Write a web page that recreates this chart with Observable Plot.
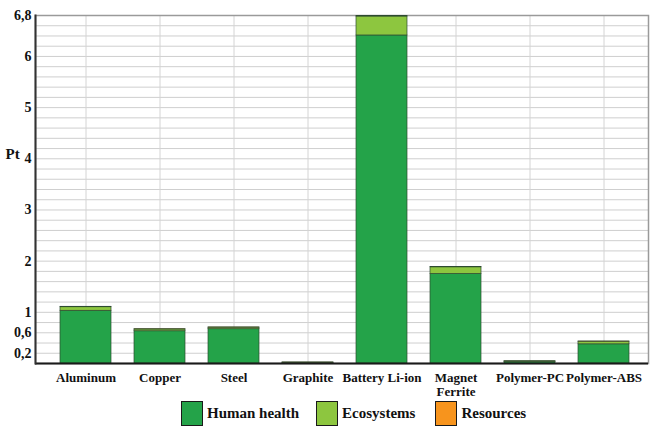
<!DOCTYPE html>
<html>
<head>
<meta charset="utf-8">
<script src="https://cdn.jsdelivr.net/npm/d3@7"></script>
<script src="https://cdn.jsdelivr.net/npm/@observablehq/plot@0.6"></script>
<style>
  body { margin: 0; background: #fff; font-family: 'Liberation Serif', 'Times New Roman', serif; }
  #chart { width: 650px; height: 400px; }
  #chart svg, #chart svg text { font-family: 'Liberation Serif', 'Times New Roman', serif !important; }
  .legend { display: flex; align-items: center; height: 27px; padding-left: 181px; font-weight: bold; font-size: 15px; color: #111; }
  .legend .item { display: flex; align-items: center; }
  .legend .sw { width: 22px; height: 25px; border: 1.5px solid #1a1a1a; box-sizing: border-box; margin-right: 4px; }
</style>
</head>
<body>
<div id="chart"></div>
<div class="legend" id="legend">
  <div class="item" style="margin-right:17px"><div class="sw"></div><span>Human health</span></div>
  <div class="item" style="margin-right:20px"><div class="sw"></div><span>Ecosystems</span></div>
  <div class="item"><div class="sw"></div><span>Resources</span></div>
</div>
<script>
const categories = ["Aluminum", "Copper", "Steel", "Graphite", "Battery Li-ion", "Magnet\nFerrite", "Polymer-PC", "Polymer-ABS"];
const impactTypes = ["Human health", "Ecosystems", "Resources"];
const humanHealth = [1.03, 0.63, 0.67, 0.012, 6.41, 1.75, 0.03, 0.375];
const ecosystems  = [0.07, 0.035, 0.03, 0.006, 0.37, 0.13, 0.012, 0.05];
const resources   = [0.008, 0.006, 0.006, 0.003, 0.01, 0.006, 0.002, 0.006];
const typeColors  = ["#24a349", "#8dc63f", "#f7941d"];
const yTicks = [0.2, 0.6, 1, 2, 3, 4, 5, 6, 6.8];
const yGrid = d3.range(0, 34).map(i => +(i * 0.2).toFixed(1)).concat([6.8]);

const seriesValues = [humanHealth, ecosystems, resources];
const data = [];
categories.forEach((c, i) => {
  impactTypes.forEach((t, j) => data.push({category: c, type: t, value: seriesValues[j][i]}));
});

function draw() {
  const chart = Plot.plot({
    width: 650,
    height: 400,
    marginLeft: 35,
    marginRight: 2,
    marginTop: 15,
    marginBottom: 37,
    style: {fontFamily: "Liberation Serif", fontSize: "13px", fontWeight: "bold", color: "#111", background: "#fff"},
    x: {domain: categories, paddingInner: 0.31, paddingOuter: 0.29, align: 0.57, label: null},
    y: {domain: [0, 6.8], label: null},
    color: {domain: impactTypes, range: typeColors},
    marks: [
      Plot.gridY(yGrid, {stroke: "#cfcfcf", strokeOpacity: 1, strokeWidth: 1}),
      Plot.gridX({stroke: "#d4d4d4", strokeOpacity: 1}),
      Plot.frame({stroke: "#9a9a9a", strokeWidth: 1.5}),
      Plot.barY(data, {x: "category", y: "value", fill: "type", order: impactTypes, stroke: "#2d4a30", strokeWidth: 0.7}),
      Plot.ruleY([0], {stroke: "#1a1a1a", strokeWidth: 2}),
      Plot.frame({anchor: "left", stroke: "#333", strokeWidth: 2}),
      Plot.axisY(yTicks, {tickSize: 0, tickPadding: 4, tickFormat: d => String(d).replace(".", ","), fontSize: 14, fontWeight: "bold"}),
      Plot.axisX({tickSize: 0, tickPadding: 8, fontSize: 13, fontWeight: "bold", lineHeight: 1.1}),
      Plot.text(["Pt"], {frameAnchor: "left", textAnchor: "start", dx: -30, dy: -35, fontSize: 15, fontWeight: "bold", fill: "#111"})
    ]
  });
  const host = document.getElementById("chart");
  host.innerHTML = "";
  host.appendChild(chart);
}

document.querySelectorAll("#legend .sw").forEach((el, i) => { el.style.background = typeColors[i]; });
draw();
if (document.fonts && document.fonts.load) {
  Promise.all([document.fonts.load("bold 14px 'Liberation Serif'"), document.fonts.load("14px 'Liberation Serif'")]).then(draw);
}
</script>
</body>
</html>
